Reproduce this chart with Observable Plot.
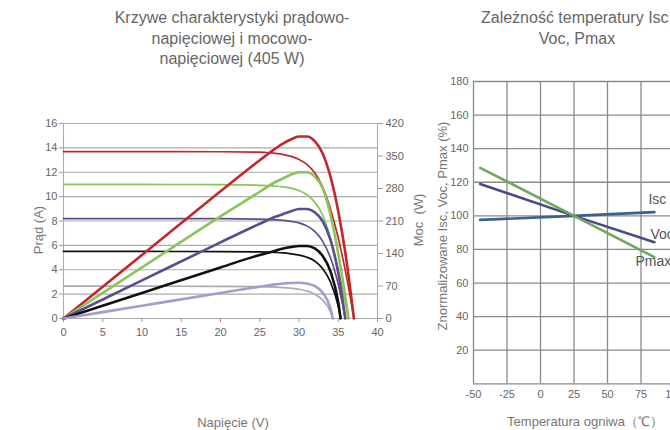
<!DOCTYPE html>
<html><head><meta charset="utf-8">
<script src="https://cdn.jsdelivr.net/npm/d3@7"></script>
<script src="https://cdn.jsdelivr.net/npm/@observablehq/plot@0.6"></script>
<style>
body{margin:0;background:#fff;}
#wrap{position:relative;width:670px;height:430px;overflow:hidden;font-family:"Liberation Sans",Arial,sans-serif;background:#fff;}
#wrap svg{position:absolute;top:0;max-width:none;background:transparent;}
.title{position:absolute;font-size:16px;color:#666;text-align:center;line-height:20.5px;white-space:nowrap;}
.lab{position:absolute;font-size:13px;color:#777;white-space:nowrap;transform:translate(-50%,-50%);}
.rot{transform:translate(-50%,-50%) rotate(-90deg);}
</style>
</head><body>
<div id="wrap">
  <div class="title" style="left:82px;top:8px;width:300px;">Krzywe charakterystyki prądowo-<br>napięciowej i mocowo-<br>napięciowej (405 W)</div>
  <div class="title" style="left:427px;top:8px;width:300px;">Zależność temperatury Isc,<br>Voc, Pmax</div>
  <div class="lab rot" style="left:38px;top:230px;">Prąd (A)</div>
  <div class="lab rot" style="left:418px;top:220px;">Moc&nbsp;&nbsp;(W)</div>
  <div class="lab rot" style="left:442px;top:226px;">Znormalizowane Isc, Voc, Pmax (%)</div>
  <div class="lab" style="left:233px;top:422px;">Napięcie (V)</div>
  <div class="lab" style="left:585px;top:422px;">Temperatura ogniwa（℃）</div>
</div>
<script>
// ---- Left chart data: I-V (A) and P-V (W) curves at five irradiance levels ----
const seriesKeys = ["s1000", "s800", "s600", "s400", "s200"];

const vS1000 = [0, 10, 20, 25, 27, 28, 29, 30, 31, 32, 33, 34, 35, 36, 37];
const iS1000 = [13.7, 13.7, 13.68, 13.65, 13.55, 13.45, 13.3, 13.05, 12.65, 11.95, 10.8, 9.0, 6.6, 3.6, 0];
const pS1000 = [0, 137, 274, 341, 366, 377, 386, 392, 392, 382, 356, 306, 231, 130, 0];

const vS800 = [0, 10, 20, 25, 27, 28, 29, 30, 31, 32, 33, 34, 35, 36, 36.3];
const iS800 = [11.0, 11.0, 10.98, 10.93, 10.87, 10.8, 10.7, 10.5, 10.15, 9.55, 8.5, 6.6, 4.0, 1.0, 0];
const pS800 = [0, 110, 220, 273, 294, 302, 310, 315, 315, 306, 281, 224, 140, 36, 0];

const vS600 = [0, 10, 20, 25, 27, 28, 29, 30, 31, 32, 33, 34, 35, 35.9];
const iS600 = [8.2, 8.2, 8.19, 8.15, 8.1, 8.05, 7.97, 7.85, 7.6, 7.15, 6.35, 5.0, 2.8, 0];
const pS600 = [0, 82, 164, 204, 219, 225, 231, 236, 236, 229, 210, 170, 98, 0];

const vS400 = [0, 10, 20, 25, 27, 28, 29, 30, 31, 32, 33, 34, 35, 35.3];
const iS400 = [5.5, 5.5, 5.49, 5.46, 5.42, 5.38, 5.3, 5.2, 5.03, 4.72, 4.1, 3.0, 1.0, 0];
const pS400 = [0, 55, 110, 137, 146, 151, 154, 156, 156, 151, 135, 102, 35, 0];

const vS200 = [0, 10, 20, 25, 27, 28, 29, 30, 31, 32, 33, 34, 34.3];
const iS200 = [2.65, 2.65, 2.64, 2.62, 2.58, 2.54, 2.48, 2.4, 2.26, 2.0, 1.52, 0.55, 0];
const pS200 = [0, 27.5, 55, 68.5, 73.5, 75.5, 76.5, 77, 75.5, 70, 56, 22, 0];

const voltTicks = [0, 5, 10, 15, 20, 25, 30, 35, 40];
const currentTicks = [0, 2, 4, 6, 8, 10, 12, 14, 16];
const powerTicks = [0, 70, 140, 210, 280, 350, 420];

// ---- Right chart data: normalized Isc, Voc, Pmax vs cell temperature ----
const tempC = [-45, 25, 85];
const iscPct = [97.6, 100, 102.2];
const vocPct = [119, 100, 84.3];
const pmaxPct = [128.6, 100, 75.4];
const tempTicks = [-50, -25, 0, 25, 50, 75, 100, 125];
const pctTicks = [20, 40, 60, 80, 100, 120, 140, 160, 180];
const pctGrid = [0, 20, 40, 60, 80, 100, 120, 140, 160, 180];
const tempSeries = ["Isc", "Voc", "Pmax"];

// ---- styles ----
const ivColors = ["#c1272d", "#8cc45c", "#5e4d8e", "#111111", "#a9a9b3"];
const pvColors = ["#c1272d", "#8cc45c", "#5e4d8e", "#111111", "#a69bcb"];
const tColors = ["#3f5f8e", "#4a4a84", "#6ea85c"];

// build tables
const vArr = {s1000: vS1000, s800: vS800, s600: vS600, s400: vS400, s200: vS200};
const iArr = {s1000: iS1000, s800: iS800, s600: iS600, s400: iS400, s200: iS200};
const pArr = {s1000: pS1000, s800: pS800, s600: pS600, s400: pS400, s200: pS200};
const ivData = [], pvData = [];
for (const k of seriesKeys) {
  vArr[k].forEach((v, j) => {
    ivData.push({series: k, v, i: iArr[k][j]});
    pvData.push({series: k, v, p: pArr[k][j]});
  });
}
const tArr = {Isc: iscPct, Voc: vocPct, Pmax: pmaxPct};
const tData = [];
for (const s of tempSeries) tempC.forEach((t, j) => tData.push({series: s, t, val: tArr[s][j]}));

const font = {fontFamily: "Liberation Sans, Arial, sans-serif", fontSize: "11px", color: "#666", background: "transparent", maxWidth: "none", overflow: "visible"};
const geomL = {width: 420, height: 430, marginLeft: 63, marginRight: 43, marginTop: 123, marginBottom: 112};
const plain = d => String(d);

const currentPlot = Plot.plot({
  ...geomL,
  style: font,
  x: {domain: [0, 40]},
  y: {domain: [0, 16]},
  color: {domain: seriesKeys, range: ivColors},
  marks: [
    Plot.gridY(currentTicks, {stroke: "#ababab", strokeOpacity: 1, strokeWidth: 1.1}),
    Plot.ruleX([0, 40], {stroke: "#ababab", strokeWidth: 1.1}),
    Plot.axisX(voltTicks, {tickSize: 4, tickPadding: 6, stroke: "#999", fill: "#666", label: null, tickFormat: plain}),
    Plot.axisY(currentTicks, {tickSize: 4, tickPadding: 2, stroke: "#999", fill: "#666", label: null, tickFormat: plain}),
    Plot.line(ivData, {x: "v", y: "i", z: "series", stroke: "series", strokeWidth: 1.7, curve: "monotone-x"})
  ]
});

const powerPlot = Plot.plot({
  ...geomL,
  style: font,
  x: {domain: [0, 40], axis: null},
  y: {domain: [0, 420]},
  color: {domain: seriesKeys, range: pvColors},
  marks: [
    Plot.axisY(powerTicks, {anchor: "right", tickSize: 5, tickPadding: 3, stroke: "#999", fill: "#666", label: null, tickFormat: plain}),
    Plot.line(pvData, {x: "v", y: "p", z: "series", stroke: "series", strokeWidth: 2.6, curve: "monotone-x"})
  ]
});

const tempPlot = Plot.plot({
  width: 400, height: 430, marginLeft: 73, marginRight: 92.5, marginTop: 81, marginBottom: 46.7,
  style: font,
  x: {domain: [-50, 125]},
  y: {domain: [0, 180]},
  color: {domain: tempSeries, range: tColors},
  marks: [
    Plot.gridX(tempTicks, {stroke: "#8a8a8a", strokeOpacity: 1, strokeWidth: 1.3}),
    Plot.gridY(pctGrid, {stroke: "#8a8a8a", strokeOpacity: 1, strokeWidth: 1.3}),
    Plot.axisX(tempTicks, {tickSize: 0, tickPadding: 6, fill: "#666", label: null, tickFormat: plain}),
    Plot.axisY(pctTicks, {tickSize: 0, tickPadding: 5, fill: "#666", label: null, tickFormat: plain}),
    Plot.line(tData, {x: "t", y: "val", z: "series", stroke: "series", strokeWidth: 2.6}),
    Plot.text(tData, Plot.selectLast({filter: d => d.series === "Isc", x: "t", y: "val", text: "series", textAnchor: "start", dx: -6, dy: -13, fill: "#555", fontSize: 14})),
    Plot.text(tData, Plot.selectLast({filter: d => d.series === "Voc", x: "t", y: "val", text: "series", textAnchor: "start", dx: -4, dy: -8, fill: "#555", fontSize: 14})),
    Plot.text(tData, Plot.selectLast({filter: d => d.series === "Pmax", x: "t", y: "val", text: "series", textAnchor: "start", dx: -19, dy: 4, fill: "#555", fontSize: 14}))
  ]
});

const wrap = document.getElementById("wrap");
currentPlot.style.left = "0px";
powerPlot.style.left = "0px";
tempPlot.style.left = "400px";
wrap.appendChild(currentPlot);
wrap.appendChild(powerPlot);
wrap.appendChild(tempPlot);
</script>
</body></html>
